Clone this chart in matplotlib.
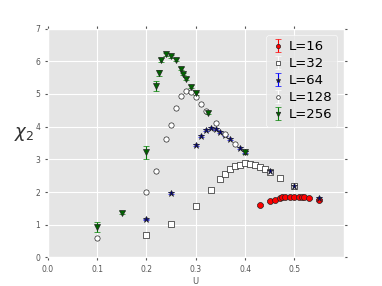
"""
plot.py — chi_2 vs U for several lattice sizes
"""

import matplotlib
matplotlib.use("Agg")
import matplotlib.pyplot as plt

# L=16
u16 = [0.43, 0.45, 0.46, 0.47, 0.475, 0.48, 0.49, 0.50, 0.51, 0.515, 0.52, 0.53, 0.55]
chi16 = [1.59, 1.72, 1.77, 1.82, 1.84, 1.85, 1.86, 1.86, 1.86, 1.85, 1.84, 1.81, 1.75]
err16 = [0.03] * len(u16)

# L=32
u32 = [0.20, 0.25, 0.30, 0.33, 0.35, 0.36, 0.37, 0.38, 0.39, 0.40, 0.41, 0.42,
       0.43, 0.44, 0.45, 0.47, 0.50]
chi32 = [0.69, 1.03, 1.58, 2.05, 2.39, 2.55, 2.69, 2.79, 2.84, 2.89, 2.87, 2.84,
         2.78, 2.69, 2.61, 2.43, 2.19]
err32 = [0.02] * len(u32)

# L=64
u64 = [0.20, 0.25, 0.30, 0.31, 0.32, 0.33, 0.34, 0.35, 0.36, 0.37, 0.39, 0.40,
       0.45, 0.50, 0.55]
chi64 = [1.16, 1.96, 3.43, 3.71, 3.89, 3.96, 3.92, 3.84, 3.73, 3.61, 3.34, 3.22,
         2.64, 2.19, 1.82]
err64 = [0.03] * len(u64)

# L=128
u128 = [0.10, 0.20, 0.22, 0.24, 0.25, 0.26, 0.27, 0.28, 0.29, 0.30, 0.31, 0.32,
        0.34, 0.36, 0.38]
chi128 = [0.59, 1.99, 2.64, 3.63, 4.05, 4.58, 4.93, 5.10, 5.06, 4.91, 4.70, 4.49,
          4.11, 3.79, 3.48]
err128 = [0.03] * len(u128)

# L=256
u256 = [0.10, 0.15, 0.20, 0.22, 0.225, 0.23, 0.24, 0.25, 0.26, 0.27, 0.275, 0.28,
        0.29, 0.30, 0.325, 0.40]
chi256 = [0.93, 1.37, 3.21, 5.24, 5.64, 6.04, 6.21, 6.15, 6.05, 5.77, 5.61, 5.47,
          5.22, 5.02, 4.43, 3.22]
err256 = [0.16, 0.05, 0.21, 0.16, 0.09, 0.07, 0.05, 0.04, 0.04, 0.04, 0.04, 0.04,
          0.04, 0.05, 0.05, 0.05]

serije = [
    ("L=16", u16, chi16, err16, "o", "red", "red", 4.3),
    ("L=32", u32, chi32, err32, "s", "white", "white", 4.3),
    ("L=64", u64, chi64, err64, "*", "navy", "blue", 5),
    ("L=128", u128, chi128, err128, "o", "white", "white", 3.8),
    ("L=256", u256, chi256, err256, "v", "darkgreen", "green", 4.6),
]


def main():
    plt.style.use("ggplot")
    fig, ax = plt.subplots(figsize=(3.82, 2.86), dpi=100)
    fig.subplots_adjust(left=0.125, right=0.9, bottom=0.1, top=0.9)

    for label, u, chi, err, mk, fc, ec, ms in serije:
        ax.errorbar(u, chi, yerr=err, fmt=mk, color=fc, ecolor=ec, mfc=fc,
                    mec="#222222", mew=0.5, ms=ms, capsize=2, elinewidth=0.8,
                    capthick=0.8, label=label)

    ax.set_xlim(0, 0.6)
    ax.set_ylim(0, 7)
    ax.set_xticks([0.0, 0.1, 0.2, 0.3, 0.4, 0.5])
    ax.set_yticks(range(0, 8))
    ax.tick_params(labelsize=5.5, colors="#555555", length=2, direction="out",
                   top=True, right=True)
    ax.grid(True, color="white", lw=0.8)
    ax.set_xlabel("U", fontsize=6, color="#555555", labelpad=2)
    ax.set_ylabel(r"$\chi_2$", fontsize=13, rotation=0, color="#333333",
                  labelpad=8)

    leg = ax.legend(loc="upper right", numpoints=1, fontsize=9.5,
                    frameon=True, handletextpad=0.3, borderpad=0.4,
                    labelspacing=0.3, handlelength=1.0, markerscale=0.7)
    leg.get_frame().set_facecolor("#e5e5e5")
    leg.get_frame().set_edgecolor("white")

    plt.savefig("out.png", dpi=100, facecolor="white")


if __name__ == "__main__":
    main()
